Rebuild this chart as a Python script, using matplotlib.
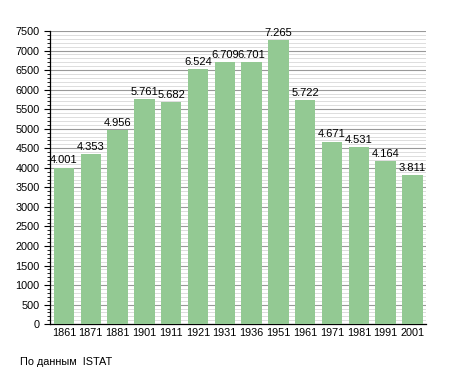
import numpy as np
import matplotlib
matplotlib.use("Agg")
import matplotlib.pyplot as plt
from matplotlib.ticker import MultipleLocator

# Население по годам переписи
years = ['1861', '1871', '1881', '1901', '1911', '1921', '1931', '1936',
         '1951', '1961', '1971', '1981', '1991', '2001']
population = [4001, 4353, 4956, 5761, 5682, 6524, 6709, 6701,
              7265, 5722, 4671, 4531, 4164, 3811]
labels = ['4.001', '4.353', '4.956', '5.761', '5.682', '6.524', '6.709', '6.701',
          '7.265', '5.722', '4.671', '4.531', '4.164', '3.811']

plt.rcParams['font.family'] = ['Liberation Sans', 'DejaVu Sans']

fig = plt.figure(figsize=(4.55, 3.73), dpi=100)
ax = fig.add_axes([0.110, 0.131, 0.826, 0.786])

x = np.arange(len(years))
ax.bar(x, population, width=0.76, color='#93c993', zorder=3)

# Подписи значений над столбцами
for xi, v, lab in zip(x, population, labels):
    ax.text(xi, v + 60, lab, ha='center', va='bottom', fontsize=8, zorder=4)

ax.set_xlim(-0.52, len(years) - 0.5)
ax.set_ylim(0, 7500)
ax.set_xticks(x)
ax.set_xticklabels(years, fontsize=7.8)
ax.yaxis.set_major_locator(MultipleLocator(500))
ax.yaxis.set_minor_locator(MultipleLocator(100))
ax.tick_params(axis='y', labelsize=7.8, length=4, width=0.8)
ax.tick_params(axis='y', which='minor', length=2, width=0.6)
ax.tick_params(axis='x', length=0, pad=3)

ax.grid(axis='y', which='major', color='#999999', linewidth=0.8, zorder=0)
ax.grid(axis='y', which='minor', color='#d8d8d8', linewidth=0.6, zorder=0)

for s in ['top', 'right']:
    ax.spines[s].set_visible(False)
ax.spines['left'].set_linewidth(0.9)
ax.spines['bottom'].set_linewidth(0.9)

fig.text(20 / 455, 1 - 362 / 373, 'По данным  ISTAT', fontsize=7.8, va='center')

fig.savefig('out.png', dpi=100)
